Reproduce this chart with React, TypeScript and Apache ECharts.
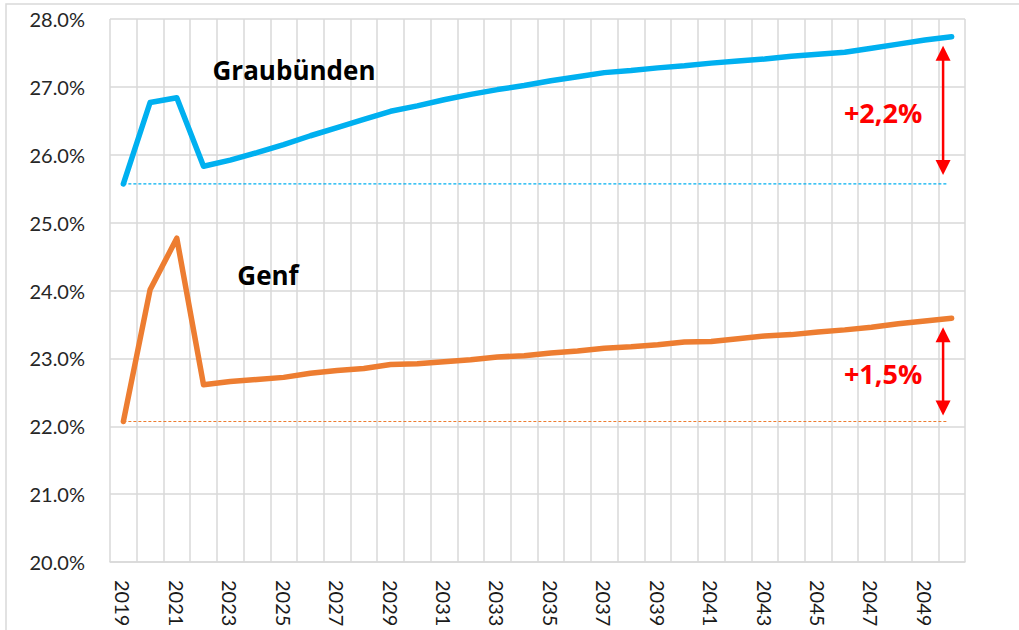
import React, { useEffect, useRef } from "react";
import * as echarts from "echarts";

const years = [
  "2019", "2020", "2021", "2022", "2023", "2024", "2025", "2026",
  "2027", "2028", "2029", "2030", "2031", "2032", "2033", "2034",
  "2035", "2036", "2037", "2038", "2039", "2040", "2041", "2042",
  "2043", "2044", "2045", "2046", "2047", "2048", "2049", "2050",
];

const graubuenden = [
  25.57, 26.77, 26.84, 25.83, 25.92, 26.03, 26.15, 26.28,
  26.4, 26.52, 26.64, 26.72, 26.81, 26.89, 26.96, 27.02,
  27.09, 27.15, 27.21, 27.24, 27.28, 27.31, 27.35, 27.38,
  27.41, 27.45, 27.48, 27.51, 27.57, 27.63, 27.69, 27.74,
];

const genf = [
  22.07, 24.01, 24.77, 22.61, 22.66, 22.69, 22.72, 22.78,
  22.82, 22.85, 22.91, 22.92, 22.95, 22.98, 23.02, 23.04,
  23.08, 23.11, 23.15, 23.17, 23.2, 23.24, 23.25, 23.29,
  23.33, 23.35, 23.39, 23.42, 23.46, 23.51, 23.55, 23.59,
];

const seriesNames = ["Graubünden", "Genf"];
const deltaLabels = ["+2,2%", "+1,5%"];
const yMin = 20;
const yMax = 28;
const yStep = 1;

const BLUE = "#00b0f0";
const ORANGE = "#ed7d31";
const GRID = "#d9d9d9";
const RED = "#ff0000";

export default function App() {
  const ref = useRef<HTMLDivElement>(null);

  useEffect(() => {
    if (!ref.current) return;
    const chart = echarts.init(ref.current, null, { renderer: "svg" });
    const option: any = {
      animation: false,
      backgroundColor: "#ffffff",
      grid: { left: 110, right: 54, top: 19, bottom: 68, containLabel: false },
      xAxis: {
        type: "category",
        data: years,
        boundaryGap: true,
        axisTick: { show: false },
        axisLine: { show: true, lineStyle: { color: GRID, width: 1.5 } },
        axisLabel: {
          interval: 1,
          rotate: -90,
          margin: 18,
          fontSize: 20,
          fontFamily: "Lato",
          color: "#1a1a1a",
        },
        splitLine: { show: true, interval: 0, lineStyle: { color: GRID, width: 1.5 } },
      },
      yAxis: {
        type: "value",
        min: yMin,
        max: yMax,
        interval: yStep,
        axisLine: { show: false },
        axisTick: { show: false },
        axisLabel: {
          margin: 25,
          fontSize: 20,
          fontFamily: "Lato",
          color: "#262626",
          formatter: (v: number) => v.toFixed(1) + "%",
        },
        splitLine: { show: true, lineStyle: { color: GRID, width: 1.5 } },
      },
      series: [
        {
          name: seriesNames[0],
          type: "line",
          data: graubuenden,
          symbol: "none",
          lineStyle: { color: BLUE, width: 5.5, cap: "round", join: "round" },
          z: 5,
        },
        {
          name: seriesNames[1],
          type: "line",
          data: genf,
          symbol: "none",
          lineStyle: { color: ORANGE, width: 5.5, cap: "round", join: "round" },
          z: 5,
        },
      ],
    };
    chart.setOption(option);

    const px = (i: number, v: number) =>
      chart.convertToPixel({ gridIndex: 0 }, [i, v]) as number[];
    const n = years.length;
    const xA = px(n - 2, yMin)[0];
    const xB = px(n - 1, yMin)[0];
    const cell = xB - xA;
    const arrowX = xA + 0.68 * cell;
    const dashEnd = xA + 0.87 * cell;
    const xStart = px(0, yMin)[0];

    const specs = [
      { data: graubuenden, color: BLUE, label: deltaLabels[0], gapTop: 9, gapBot: 9 },
      { data: genf, color: ORANGE, label: deltaLabels[1], gapTop: 9, gapBot: 6 },
    ];

    const graphics: any[] = [
      {
        type: "rect",
        shape: { x: 6, y: 4, width: 1100, height: 700 },
        style: { fill: "none", stroke: GRID, lineWidth: 1.5 },
        silent: true,
        z: -1,
      },
    ];

    specs.forEach((s) => {
      const base = s.data[0];
      const last = s.data[n - 1];
      const yBase = px(0, base)[1];
      const yLast = px(n - 1, last)[1];
      graphics.push({
        type: "line",
        shape: { x1: xStart, y1: yBase, x2: dashEnd, y2: yBase },
        style: { stroke: s.color, lineWidth: 1.2, lineDash: [3, 2] },
        silent: true,
        z: 4,
      });
      const top = yLast + s.gapTop;
      const bot = yBase - s.gapBot;
      const head = 15;
      const hw = 7.5;
      graphics.push({
        type: "line",
        shape: { x1: arrowX, y1: top + head - 2, x2: arrowX, y2: bot - head + 2 },
        style: { stroke: RED, lineWidth: 2.5 },
        z: 6,
      });
      graphics.push({
        type: "polygon",
        shape: { points: [[arrowX, top], [arrowX - hw, top + head], [arrowX + hw, top + head]] },
        style: { fill: RED },
        z: 6,
      });
      graphics.push({
        type: "polygon",
        shape: { points: [[arrowX, bot], [arrowX - hw, bot - head], [arrowX + hw, bot - head]] },
        style: { fill: RED },
        z: 6,
      });
      graphics.push({
        type: "text",
        x: arrowX - 60,
        y: (top + bot) / 2 + 2,
        style: {
          text: s.label,
          fill: RED,
          font: "bold 27px 'Open Sans'",
          align: "center",
          verticalAlign: "middle",
        },
        z: 6,
      });
    });

    graphics.push({
      type: "text",
      x: 294,
      y: 70,
      style: {
        text: seriesNames[0],
        fill: "#000000",
        font: "bold 26px 'Open Sans'",
        align: "center",
        verticalAlign: "middle",
      },
      z: 6,
    });
    graphics.push({
      type: "text",
      x: 268,
      y: 275,
      style: {
        text: seriesNames[1],
        fill: "#000000",
        font: "bold 26px 'Open Sans'",
        align: "center",
        verticalAlign: "middle",
      },
      z: 6,
    });

    chart.setOption({ graphic: graphics });

    return () => chart.dispose();
  }, []);

  return (
    <div
      ref={ref}
      style={{ position: "fixed", left: 0, top: 0, width: 1019, height: 630, background: "#fff" }}
    />
  );
}
